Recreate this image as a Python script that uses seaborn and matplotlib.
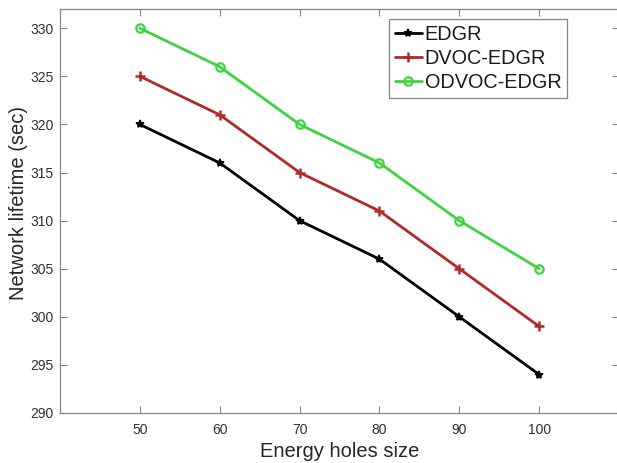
import matplotlib
matplotlib.use("Agg")
import matplotlib.pyplot as plt
import seaborn as sns
import pandas as pd

# Data
hole_sizes = [50, 60, 70, 80, 90, 100]
edgr = [320, 316, 310, 306, 300, 294]
dvoc_edgr = [325, 321, 315, 311, 305, 299]
odvoc_edgr = [330, 326, 320, 316, 310, 305]
series_names = ["EDGR", "DVOC-EDGR", "ODVOC-EDGR"]
x_ticks = [50, 60, 70, 80, 90, 100]
y_ticks = [290, 295, 300, 305, 310, 315, 320, 325, 330]

sns.set_theme(style="white")
plt.rcParams["font.family"] = ["Liberation Sans", "DejaVu Sans"]

fig = plt.figure(figsize=(6.17, 4.63), dpi=100)
ax = fig.add_axes([60 / 617, 50 / 463, 559 / 617, 404 / 463])

styles = {
    "EDGR": dict(color="#000000", marker="*", markersize=6, markerfacecolor="#000000",
                 markeredgecolor="#000000", markeredgewidth=1.2),
    "DVOC-EDGR": dict(color="#b02a2a", marker="+", markersize=7, markerfacecolor="#b02a2a",
                      markeredgecolor="#b02a2a", markeredgewidth=1.8),
    "ODVOC-EDGR": dict(color="#3fd43f", marker="o", markersize=6, markerfacecolor="none",
                       markeredgecolor="#3fd43f", markeredgewidth=1.6),
}
values = {"EDGR": edgr, "DVOC-EDGR": dvoc_edgr, "ODVOC-EDGR": odvoc_edgr}

for name in series_names:
    df = pd.DataFrame({"x": hole_sizes, "y": values[name]})
    sns.lineplot(data=df, x="x", y="y", ax=ax, label=name, linewidth=2.0, **styles[name])

ax.set_xlim(40, 110)
ax.set_ylim(290, 332)
ax.set_xticks(x_ticks)
ax.set_yticks(y_ticks)

spine_col = "#858585"
for s in ax.spines.values():
    s.set_visible(True)
    s.set_color(spine_col)
    s.set_linewidth(0.9)

ax.tick_params(axis="both", direction="in", length=5, width=0.8, color=spine_col,
               labelsize=10, labelcolor="#303030", top=True, right=True,
               bottom=True, left=True)
ax.tick_params(axis="x", pad=7)
ax.tick_params(axis="y", pad=4.5)

ax.set_xlabel("Energy holes size", fontsize=14.5, color="#262626", labelpad=4)
ax.set_ylabel("Network lifetime (sec)", fontsize=14.5, color="#262626")
ax.yaxis.set_label_coords(-32 / 559, 0.52)

leg = ax.legend(loc="upper left", bbox_to_anchor=(329 / 559, 1 - 10 / 404),
                fontsize=14.3, frameon=True, fancybox=False, handlelength=1.35,
                handletextpad=0.15, borderpad=0.3, labelspacing=0.25, borderaxespad=0)
leg.get_frame().set_edgecolor("#666666")
leg.get_frame().set_linewidth(0.9)
for t in leg.get_texts():
    t.set_color("#1a1a1a")

fig.savefig("out.png", dpi=100)
